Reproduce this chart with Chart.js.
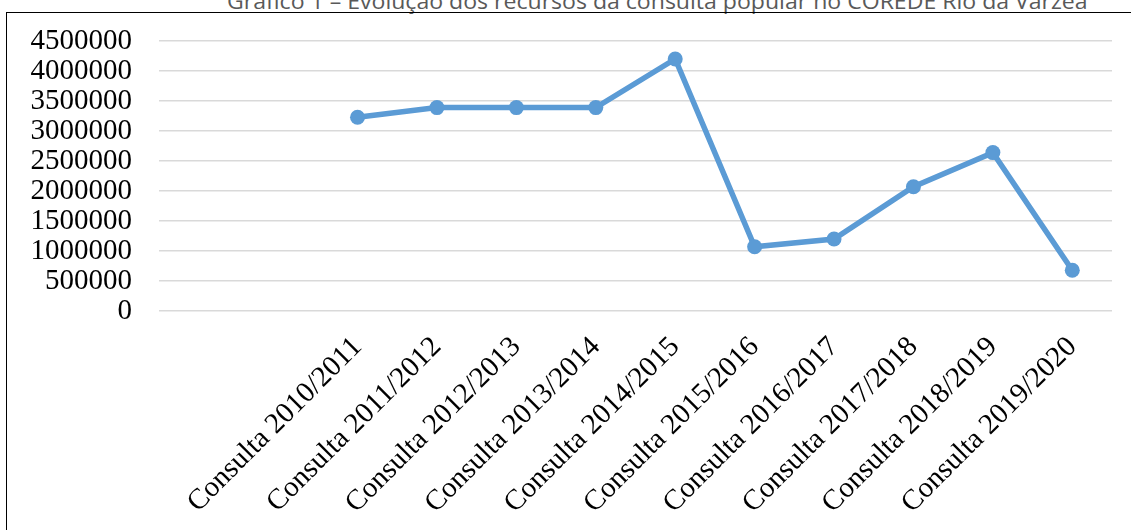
<!DOCTYPE html>
<html>
<head>
<meta charset="utf-8">
<script src="https://cdn.jsdelivr.net/npm/chart.js@4"></script>
<style>
  html, body { margin: 0; padding: 0; background: #fff; }
  body { width: 1131px; height: 530px; position: relative; overflow: hidden; }
  #frame { position: absolute; left: 6px; top: 12px; width: 1200px; height: 600px;
           border-left: 1.5px solid #000; border-top: 1.5px solid #000; }
  #title { position: absolute; left: 227px; top: -13px; white-space: nowrap;
           font-family: "Open Sans", sans-serif; font-size: 21px; color: #595959;
           transform-origin: 0 0; }
  #wrap { position: absolute; left: 0; top: 0; width: 1131px; height: 530px; }
</style>
</head>
<body>
<div id="title">Gráfico 1 – Evolução dos recursos da consulta popular no COREDE Rio da Várzea</div>
<div id="frame"></div>
<div id="wrap"><canvas id="chart"></canvas></div>
<script>
// two empty rows at the start of the sheet, then the consultations
let categories = ["", "", "Consulta 2010/2011", "Consulta 2011/2012", "Consulta 2012/2013",
  "Consulta 2013/2014", "Consulta 2014/2015", "Consulta 2015/2016", "Consulta 2016/2017",
  "Consulta 2017/2018", "Consulta 2018/2019", "Consulta 2019/2020"];
let recursos = [null, null, 3230000, 3390000, 3390000, 3390000, 4200000,
  1070000, 1200000, 2070000, 2640000, 680000];
let yTicks = [0, 500000, 1000000, 1500000, 2000000, 2500000, 3000000, 3500000, 4000000, 4500000];

// stretch the title to the width it has in the picture
let t = document.getElementById("title");
t.style.transform = "scaleX(" + (861 / t.offsetWidth) + ")";

let ctx = document.getElementById("chart").getContext("2d");
let chart = new Chart(ctx, {
  type: "line",
  data: {
    labels: categories,
    datasets: [{
      label: "Recursos",
      data: recursos,
      borderColor: "#5B9BD5",
      backgroundColor: "#5B9BD5",
      borderWidth: 5.5,
      pointRadius: 7.5,
      pointHoverRadius: 7.5,
      pointBorderWidth: 0,
      fill: false,
      tension: 0
    }]
  },
  options: {
    responsive: true,
    maintainAspectRatio: false,
    animation: false,
    layout: { padding: { left: 31, right: 19, top: 41, bottom: 0 } },
    plugins: { legend: { display: false }, tooltip: { enabled: false } },
    scales: {
      x: {
        offset: true,
        grid: { display: false, offset: true },
        border: { display: false },
        afterFit: function(scale){ scale.height = 219; },
        ticks: {
          autoSkip: false, minRotation: 45, maxRotation: 45,
          color: "#000", padding: 11,
          font: { family: "Liberation Serif", size: 29 }
        }
      },
      y: {
        min: 0, max: 4500000,
        afterBuildTicks: function(scale){
          scale.ticks = yTicks.map(function(v){ return { value: v }; });
        },
        afterFit: function(scale){
          scale.width = 128;
          scale.paddingTop = 0;
          scale.paddingBottom = 0;
        },
        grid: { color: "#D9D9D9", lineWidth: 1.5, drawTicks: false },
        border: { display: false },
        ticks: {
          autoSkip: false,
          color: "#000", padding: 27,
          font: { family: "Liberation Serif", size: 29 },
          callback: function(v){ return String(v); }
        }
      }
    }
  }
});
</script>
</body>
</html>
